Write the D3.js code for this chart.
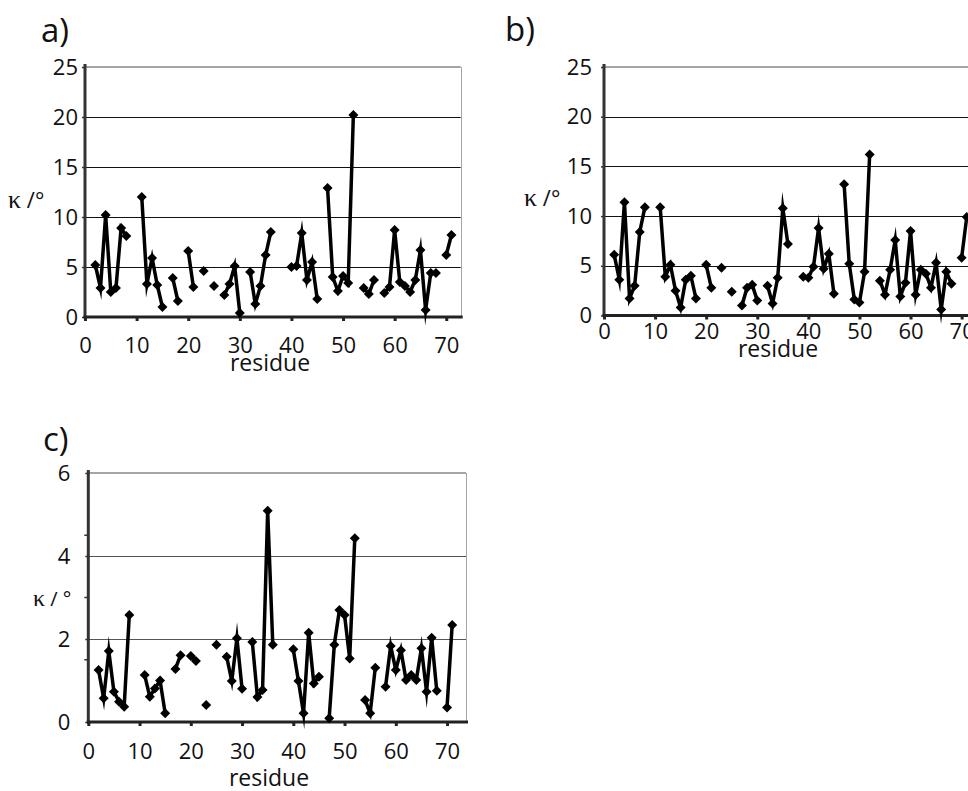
<!DOCTYPE html>
<html>
<head>
<meta charset="utf-8">
<script src="https://cdn.jsdelivr.net/npm/d3@7"></script>
<style>
  body { margin: 0; background: #fff; }
  svg { display: block; background: #fff; }
</style>
</head>
<body>
<svg id="chart" width="968" height="791"></svg>
<script>
// residue numbers (x axis)
const residues = [1, 2, 3, 4, 5, 6, 7, 8, 9, 10, 11, 12, 13, 14, 15, 16, 17, 18, 19, 20,
    21, 22, 23, 24, 25, 26, 27, 28, 29, 30, 31, 32, 33, 34, 35, 36, 37, 38, 39, 40,
    41, 42, 43, 44, 45, 46, 47, 48, 49, 50, 51, 52, 53, 54, 55, 56, 57, 58, 59, 60,
    61, 62, 63, 64, 65, 66, 67, 68, 69, 70, 71, 72];

// kappa (degrees) per residue, null = no value
const kappaA = [null, 5.2, 2.9, 10.2, 2.5, 2.9, 8.9, 8.1, null, null,
    12.0, 3.3, 5.9, 3.2, 1.0, null, 3.9, 1.6, null, 6.6,
    3.0, null, 4.6, null, 3.1, null, 2.2, 3.3, 5.1, 0.4,
    null, 4.5, 1.3, 3.1, 6.2, 8.5, null, null, null, 5.0,
    5.1, 8.4, 3.7, 5.5, 1.8, null, 12.9, 4.0, 2.6, 4.1,
    3.4, 20.2, null, 2.9, 2.3, 3.7, null, 2.4, 3.0, 8.7,
    3.5, 3.1, 2.5, 3.7, 6.7, 0.7, 4.4, 4.4, null, 6.2,
    8.2, null];

const kappaB = [null, 6.1, 3.6, 11.4, 1.7, 3.0, 8.4, 10.9, null, null,
    10.9, 3.9, 5.1, 2.5, 0.8, 3.6, 4.0, 1.7, null, 5.1,
    2.8, null, 4.8, null, 2.4, null, 1.0, 2.8, 3.1, 1.5,
    null, 3.0, 1.2, 3.8, 10.8, 7.2, null, null, 3.9, 3.8,
    4.9, 8.8, 4.7, 6.2, 2.2, null, 13.2, 5.2, 1.6, 1.3,
    4.4, 16.2, null, 3.5, 2.1, 4.6, 7.6, 1.9, 3.3, 8.5,
    2.1, 4.6, 4.2, 2.8, 5.3, 0.6, 4.4, 3.2, null, 5.8,
    9.9, null];

const kappaC = [null, 1.25, 0.57, 1.71, 0.73, 0.49, 0.37, 2.58, null, null,
    1.13, 0.61, 0.81, 1.00, 0.21, null, 1.28, 1.61, null, 1.59,
    1.47, null, 0.41, null, 1.86, null, 1.57, 0.99, 2.02, 0.80,
    null, 1.93, 0.60, 0.77, 5.09, 1.86, null, null, null, 1.75,
    0.99, 0.21, 2.15, 0.93, 1.09, null, 0.09, 1.86, 2.70, 2.58,
    1.53, 4.43, null, 0.53, 0.21, 1.31, null, 0.85, 1.83, 1.25,
    1.73, 1.01, 1.13, 1.01, 1.78, 0.73, 2.03, 0.75, null, 0.35,
    2.34, null];

const xTicks = [0, 10, 20, 30, 40, 50, 60, 70];
const yTicksAB = [0, 5, 10, 15, 20, 25];
const yTicksC = [0, 2, 4, 6];
const yMinorC = [1.5, 3, 4.5];

const sans = "'Open Sans', 'Noto Sans', sans-serif";
const serif = "'Liberation Serif', 'DejaVu Serif', serif";

let svg = d3.select("#chart");

// snap a 1px line onto the pixel grid so it stays crisp
const crisp = v => Math.round(v) + 0.5;

function drawPanel(p) {
    let g = svg.append("g");

    let x = d3.scaleLinear().domain([0, p.xMax]).range([p.left, p.right]);
    let y = d3.scaleLinear().domain([0, p.yMax]).range([p.bottom, p.top]);

    // horizontal gridlines
    g.selectAll("line.grid")
        .data(p.yTicks.filter(d => d > 0 && d < p.yMax))
        .join("line")
        .attr("class", "grid")
        .attr("x1", p.left).attr("x2", p.right)
        .attr("y1", d => crisp(y(d))).attr("y2", d => crisp(y(d)))
        .attr("stroke", p.gridColor).attr("stroke-width", 1);

    // plot border top / right (light grey)
    g.append("line")
        .attr("x1", p.left).attr("x2", p.right)
        .attr("y1", y(p.yMax)).attr("y2", y(p.yMax))
        .attr("stroke", "#a5a5a5").attr("stroke-width", 2);
    g.append("line")
        .attr("x1", crisp(p.right)).attr("x2", crisp(p.right))
        .attr("y1", y(p.yMax)).attr("y2", y(0))
        .attr("stroke", "#a5a5a5").attr("stroke-width", 1);

    // x axis
    let xAxis = d3.axisBottom(x).tickValues(xTicks).tickSize(4).tickPadding(p.xPad);
    g.append("g")
        .attr("transform", `translate(0,${p.bottom})`)
        .call(xAxis)
        .call(a => a.select(".domain").remove())
        .call(a => a.selectAll(".tick line").attr("stroke", "#222").attr("stroke-width", 3))
        .call(a => a.selectAll("text").attr("fill", "#111"))
        .attr("font-family", sans).attr("font-size", 22);

    // y axis
    let yAxis = d3.axisLeft(y).tickValues(p.yTicks).tickFormat(d3.format("d"))
        .tickSize(3).tickPadding(p.yPad);
    g.append("g")
        .attr("transform", `translate(${p.left},0)`)
        .call(yAxis)
        .call(a => a.select(".domain").remove())
        .call(a => a.selectAll(".tick line").attr("stroke", "#333").attr("stroke-width", 1.5))
        .call(a => a.selectAll("text").attr("fill", "#111"))
        .attr("font-family", sans).attr("font-size", 22);

    if (p.minor) {
        g.selectAll("line.minor")
            .data(p.minor)
            .join("line")
            .attr("class", "minor")
            .attr("x1", p.left - 4).attr("x2", p.left)
            .attr("y1", d => y(d)).attr("y2", d => y(d))
            .attr("stroke", "#333").attr("stroke-width", 1.5);
    }

    // axis lines
    g.append("line")
        .attr("x1", p.left).attr("x2", p.left)
        .attr("y1", y(p.yMax) - 3).attr("y2", y(0) + 1.5)
        .attr("stroke", "#333").attr("stroke-width", 3);
    g.append("line")
        .attr("x1", p.left - 1.5).attr("x2", p.right + 2)
        .attr("y1", y(0)).attr("y2", y(0))
        .attr("stroke", "#222").attr("stroke-width", 3);

    // data
    let pts = residues.map((r, i) => ({ r: r, v: p.values[i] }));

    let line = d3.line()
        .defined(d => d.v !== null)
        .x(d => x(d.r))
        .y(d => y(d.v));

    g.append("path")
        .datum(pts)
        .attr("d", line)
        .attr("fill", "none")
        .attr("stroke", "#000")
        .attr("stroke-width", 3.5)
        .attr("stroke-miterlimit", 10);

    let marker = d3.symbol().type(d3.symbolSquare).size(50);
    g.selectAll("path.mark")
        .data(pts.filter(d => d.v !== null))
        .join("path")
        .attr("class", "mark")
        .attr("d", marker)
        .attr("transform", d => `translate(${x(d.r)},${y(d.v)}) rotate(45)`)
        .attr("fill", "#000");

    // panel letter
    g.append("text")
        .attr("x", p.nameX).attr("y", p.nameY)
        .attr("font-family", sans).attr("font-size", 33)
        .attr("fill", "#111")
        .text(p.name);

    // y title: kappa /°
    let yt = g.append("text")
        .attr("x", p.ytX).attr("y", p.ytY)
        .attr("fill", "#111");
    yt.append("tspan").attr("font-family", serif).attr("font-size", p.ytSize + 4).text("κ");
    yt.append("tspan").attr("font-family", sans).attr("font-size", p.ytSize).text(p.ytRest);

    // x title
    g.append("text")
        .attr("x", p.xtX).attr("y", p.xtY)
        .attr("text-anchor", "middle")
        .attr("font-family", sans).attr("font-size", 23)
        .attr("fill", "#111")
        .text("residue");
}

drawPanel({
    values: kappaA, name: "a)", nameX: 41, nameY: 42,
    left: 85, right: 460.7, top: 67, bottom: 317, xMax: 72.8, yMax: 25,
    yTicks: yTicksAB, gridColor: "#111", xPad: 16, yPad: 4,
    ytX: 8, ytY: 208, ytSize: 22, ytRest: " /°",
    xtX: 270, xtY: 371
});

drawPanel({
    values: kappaB, name: "b)", nameX: 505, nameY: 41,
    left: 604, right: 979, top: 67, bottom: 315.5, xMax: 73.4, yMax: 25,
    yTicks: yTicksAB, gridColor: "#111", xPad: 4, yPad: 9,
    ytX: 524, ytY: 206, ytSize: 22, ytRest: " /°",
    xtX: 778, xtY: 357
});

drawPanel({
    values: kappaC, name: "c)", nameX: 43, nameY: 451,
    left: 88.3, right: 466, top: 473, bottom: 722, xMax: 73.7, yMax: 6,
    yTicks: yTicksC, minor: yMinorC, gridColor: "#555", xPad: 17, yPad: 15,
    ytX: 33, ytY: 606, ytSize: 20, ytRest: " / °",
    xtX: 269, xtY: 786
});
</script>
</body>
</html>
